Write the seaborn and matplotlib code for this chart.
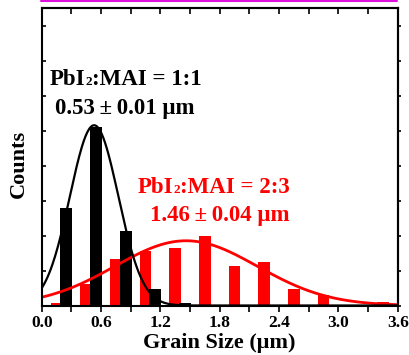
import numpy as np
import pandas as pd
import matplotlib
matplotlib.use("Agg")
import matplotlib.pyplot as plt
from matplotlib.lines import Line2D
from matplotlib.ticker import MultipleLocator, NullFormatter
import seaborn as sns

# Grain-size histograms (bin centres in µm, counts)
ratio_11_size = [0.25, 0.55, 0.85, 1.15, 1.45]
ratio_11_count = [27.8, 51.1, 21.4, 4.6, 0.8]

ratio_23_size = [0.15, 0.45, 0.75, 1.05, 1.35, 1.65, 1.95, 2.25, 2.55, 2.85, 3.15, 3.45]
ratio_23_count = [0.6, 6.2, 13.2, 15.7, 16.3, 20.0, 11.4, 12.3, 4.6, 2.9, 0.0, 0.9]

# Gaussian fit parameters (centre, width, amplitude)
fit_11 = dict(mean=0.53, sigma=0.245, amp=51.5)
fit_23 = dict(mean=1.46, sigma=0.72, amp=18.5)

x_ticks = [0.0, 0.6, 1.2, 1.8, 2.4, 3.0, 3.6]
x_tick_labels = ["0.0", "0.6", "1.2", "1.8", "2.4", "3.0", "3.6"]

RED = "#ff0000"

sns.set_theme(style="ticks")
plt.rcParams["font.family"] = ["Liberation Serif", "DejaVu Serif"]
plt.rcParams["font.weight"] = "bold"
for key in ("text.color", "axes.labelcolor", "xtick.color", "ytick.color",
            "axes.edgecolor"):
    plt.rcParams[key] = "black"

W, H = 409, 355
fig = plt.figure(figsize=(W / 100, H / 100), dpi=100)
ax = fig.add_axes([41.7 / W, 1 - 305.5 / H, (397.7 - 41.7) / W, (305.5 - 8) / H])

df23 = pd.DataFrame({"size": ratio_23_size, "count": ratio_23_count})
df11 = pd.DataFrame({"size": ratio_11_size, "count": ratio_11_count})

sns.barplot(data=df23, x="size", y="count", native_scale=True, width=0.4,
            color=RED, saturation=1, errorbar=None, linewidth=0, ax=ax)
sns.barplot(data=df11, x="size", y="count", native_scale=True, width=0.4,
            color="black", saturation=1, errorbar=None, linewidth=0, ax=ax)

xs = np.linspace(0, 3.6, 400)
def gauss(x, p):
    return p["amp"] * np.exp(-(x - p["mean"]) ** 2 / (2 * p["sigma"] ** 2))

sns.lineplot(x=xs, y=gauss(xs, fit_23), color=RED, linewidth=2.0, ax=ax)
sns.lineplot(x=xs, y=gauss(xs, fit_11), color="black", linewidth=1.6, ax=ax)

ax.set_xlim(0, 3.6)
ax.set_ylim(0, 85)

# axis frame and ticks
for s in ax.spines.values():
    s.set_visible(True)
    s.set_linewidth(1.5)
    s.set_color("black")

ax.set_xticks(x_ticks)
ax.set_xticklabels(x_tick_labels)
ax.xaxis.set_minor_locator(MultipleLocator(0.3))
ax.tick_params(axis="x", which="both", direction="out", length=4, width=1.2,
               pad=3, labelsize=12.5, colors="black", top=False)
ax.yaxis.set_major_locator(MultipleLocator(10))
ax.yaxis.set_major_formatter(NullFormatter())
ax.tick_params(axis="y", which="both", direction="in", length=3, width=1.2,
               right=False, left=True, colors="black")
for lab in ax.get_xticklabels():
    lab.set_fontweight("bold")

top = ax.secondary_xaxis("top")
top.set_xticks(np.arange(0, 3.61, 0.3))
top.tick_params(direction="in", length=4, width=1.2, labeltop=False)
top.spines["top"].set_linewidth(1.5)
right = ax.secondary_yaxis("right")
right.set_yticks(np.arange(0, 81, 10))
right.tick_params(direction="out", length=2, width=1.2, labelright=False)
right.spines["right"].set_linewidth(1.5)

ax.set_xlabel("Grain Size (\u03bcm)", fontsize=16, fontweight="bold",
              labelpad=1, color="black")
ax.set_ylabel("Counts", fontsize=16, fontweight="bold", color="black")
ax.yaxis.set_label_coords(-0.036, 0.477)

renderer = fig.canvas.get_renderer()

def rich_text(x_px, y_px, parts, color):
    """Write consecutive text runs of different sizes on one baseline."""
    x = x_px
    for s, size in parts:
        t = fig.text(x / W, 1 - y_px / H, s, fontsize=size, fontweight="bold",
                     color=color, ha="left", va="baseline")
        x += t.get_window_extent(renderer).width

BIG, SUB = 16.5, 9.5
rich_text(50, 85, [("PbI", BIG), ("2", SUB), (":MAI = 1:1", BIG)], "black")
rich_text(55, 114, [("0.53\u2009\u00b1\u20090.01 \u03bcm", BIG)], "black")
rich_text(138, 192.5, [("PbI", BIG), ("2", SUB), (":MAI = 2:3", BIG)], RED)
rich_text(150, 221, [("1.46\u2009\u00b1\u20090.04 \u03bcm", BIG)], RED)

# edge of the neighbouring panel
fig.add_artist(Line2D([40.7 / W, 396.7 / W], [1 - 1 / H] * 2, color="#dd10dd",
                      linewidth=1.5, transform=fig.transFigure))

fig.savefig("out.png", dpi=100)
